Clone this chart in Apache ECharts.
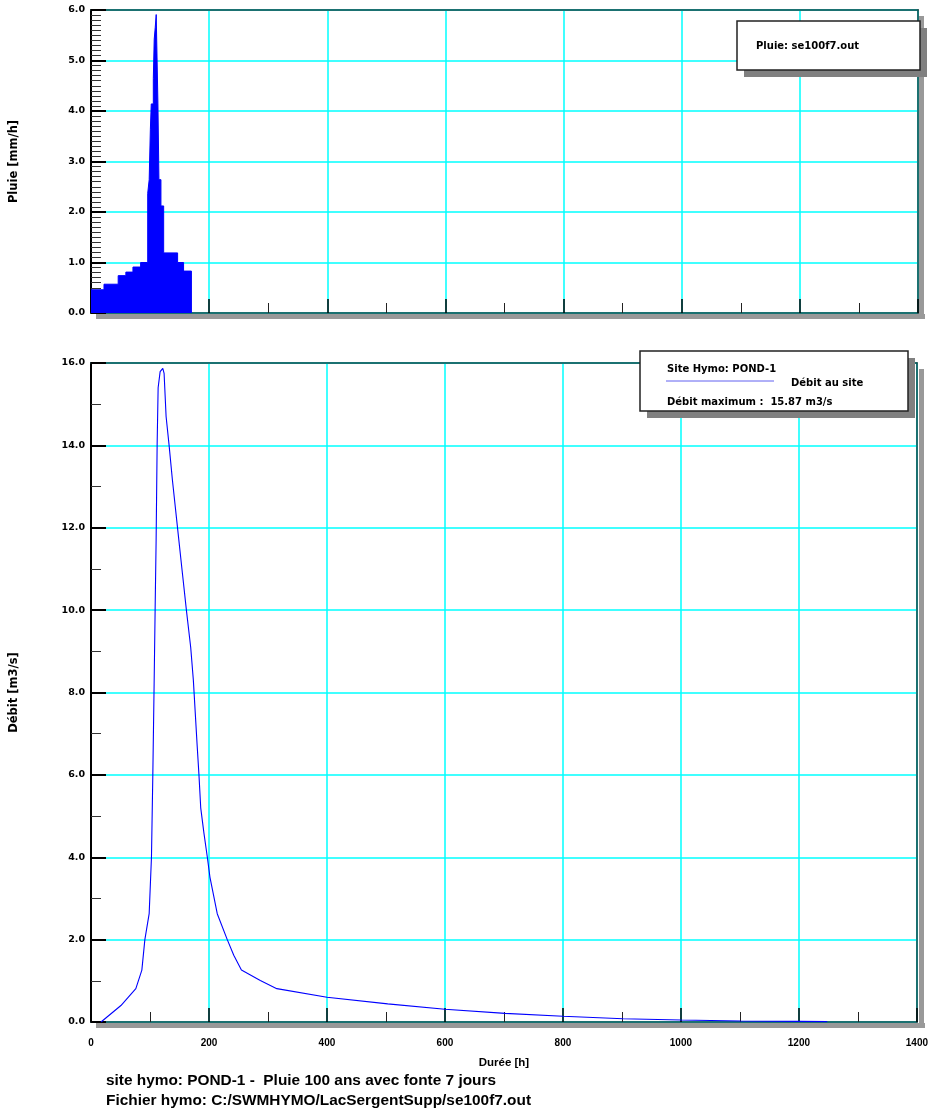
<!DOCTYPE html>
<html>
<head>
<meta charset="utf-8">
<script src="https://cdn.jsdelivr.net/npm/echarts@6/dist/echarts.min.js"></script>
<style>
html,body{margin:0;padding:0;background:#fff;}
#c{width:931px;height:1114px;}
</style>
</head>
<body>
<div id="c"></div>
<script>
// Rain hyetograph: interval boundaries (h) and intensities (mm/h)
var rainTimes = [0, 22, 46, 59, 71, 84, 96, 98.5, 100.5, 102, 105.5, 107, 108.7, 110.4, 113.3, 115, 118.4, 123, 146.6, 156.7, 170];
var rainValues = [0.46, 0.57, 0.74, 0.81, 0.91, 1.0, 2.37, 2.64, 3.64, 4.14, 4.64, 5.42, 5.65, 5.91, 4.14, 2.64, 2.12, 1.19, 1.0, 0.83];

// Hydrograph: time (h) and flow (m3/s)
var flowTimes = [17, 50.7, 76, 86.2, 91.3, 98.6, 102.5, 104.8, 107, 108.7, 110.4, 112.1, 113.8, 117.2, 121.7, 123.9, 127.3, 132.4, 138, 146.5, 155, 161.7, 169, 173.5, 180, 183, 186, 191.5, 197.2, 201.6, 214, 231, 242, 255, 287, 315, 400, 503, 600, 702, 800, 902, 1000, 1101, 1200, 1248];
var flowValues = [0, 0.40, 0.81, 1.26, 2.0, 2.63, 4.0, 6.0, 8.2, 10.0, 11.7, 14.0, 15.4, 15.79, 15.87, 15.75, 14.7, 14.0, 13.16, 12.02, 10.89, 10.0, 9.1, 8.3, 6.7, 6.0, 5.2, 4.58, 4.0, 3.52, 2.63, 2.0, 1.62, 1.26, 1.01, 0.81, 0.60, 0.44, 0.31, 0.21, 0.14, 0.08, 0.05, 0.025, 0.015, 0.01];

var yTopTicks = [0, 1, 2, 3, 4, 5, 6];
var yBottomTicks = [0, 2, 4, 6, 8, 10, 12, 14, 16];
var xTicks = [0, 200, 400, 600, 800, 1000, 1200, 1400];

var rainData = rainValues.map(function (v, i) { return [rainTimes[i], v]; });
rainData.push([rainTimes[rainTimes.length - 1], 0]);
var flowData = flowTimes.map(function (t, i) { return [t, flowValues[i]]; });

var FONT = 'Liberation Sans, Arial, sans-serif';
var WFONT = 'DejaVu Sans, Verdana, sans-serif';
var gridColor = '#00ffff';
var frameColor = '#1e4d4d';

function xAxisCfg(gi, showLabels) {
  return {
    type: 'value', gridIndex: gi, min: xTicks[0], max: xTicks[xTicks.length - 1], interval: 200,
    axisLine: { show: true, onZero: false, lineStyle: { color: frameColor, width: 1.5 } },
    axisTick: { show: true, inside: true, length: 14, lineStyle: { color: '#000', width: 1.5 } },
    minorTick: { show: true, splitNumber: 2, length: 10, lineStyle: { color: '#222', width: 1 } },
    splitLine: { show: true, lineStyle: { color: gridColor, width: 1.5 } },
    axisLabel: { show: showLabels, color: '#000', fontFamily: FONT, fontWeight: 'bold', fontSize: 10, margin: 16,
      formatter: function (v) { return String(v); } },
    name: showLabels ? 'Durée [h]' : '', nameLocation: 'middle', nameGap: 35,
    nameTextStyle: { color: '#000', fontFamily: FONT, fontWeight: 'bold', fontSize: 11.5 }
  };
}
function frameXAxis(gi) {
  return {
    type: 'value', gridIndex: gi, position: 'top', min: xTicks[0], max: xTicks[xTicks.length - 1],
    axisLine: { show: true, onZero: false, lineStyle: { color: frameColor, width: 1.5 } },
    axisTick: { show: false }, axisLabel: { show: false }, splitLine: { show: false }
  };
}
function frameYAxis(gi, ticks) {
  return {
    type: 'value', gridIndex: gi, position: 'right', min: ticks[0], max: ticks[ticks.length - 1],
    axisLine: { show: true, onZero: false, lineStyle: { color: frameColor, width: 1.5 } },
    axisTick: { show: false }, axisLabel: { show: false }, splitLine: { show: false }
  };
}

function yAxisCfg(gi, ticks, interval, minorSplit, name) {
  return {
    type: 'value', gridIndex: gi, min: ticks[0], max: ticks[ticks.length - 1], interval: interval,
    axisLine: { show: true, onZero: false, lineStyle: { color: '#000', width: 2 } },
    axisTick: { show: true, inside: true, length: 15, lineStyle: { color: '#000', width: 2 } },
    minorTick: { show: true, splitNumber: minorSplit, length: 10, lineStyle: { color: '#333', width: 1 } },
    splitLine: { show: true, lineStyle: { color: gridColor, width: 1.5 } },
    axisLabel: { color: '#000', fontFamily: WFONT, fontWeight: 'bold', fontSize: 9.5, margin: 6,
      formatter: function (v) { return v.toFixed(1); } },
    name: name, nameLocation: 'middle', nameGap: 71, nameRotate: 90,
    nameTextStyle: { color: '#000', fontFamily: WFONT, fontWeight: 'bold', fontSize: 11.5 }
  };
}

function legendBox(x, y, w, h, children) {
  return {
    type: 'group', x: x, y: y, z: 100,
    children: [
      { type: 'rect', shape: { x: 7, y: 7, width: w, height: h }, style: { fill: '#808080' }, z: 100 },
      { type: 'rect', shape: { x: 0, y: 0, width: w, height: h }, style: { fill: '#fff', stroke: '#222', lineWidth: 1.5 }, z: 101 }
    ].concat(children)
  };
}

var chart = echarts.init(document.getElementById('c'), null, { renderer: 'canvas' });
chart.setOption({
  animation: false,
  backgroundColor: '#fff',
  grid: [
    { left: 90, right: 13, top: 10, height: 303, show: true, borderColor: frameColor, borderWidth: 1.5, backgroundColor: 'transparent' },
    { left: 90, right: 13, top: 363, height: 659, show: true, borderColor: frameColor, borderWidth: 1.5, backgroundColor: 'transparent' }
  ],
  xAxis: [xAxisCfg(0, false), xAxisCfg(1, true), frameXAxis(0), frameXAxis(1)],
  yAxis: [
    yAxisCfg(0, yTopTicks, 1, 10, 'Pluie [mm/h]'),
    yAxisCfg(1, yBottomTicks, 2, 2, 'Débit [m3/s]'),
    frameYAxis(0, yTopTicks), frameYAxis(1, yBottomTicks)
  ],
  series: [
    {
      type: 'line', xAxisIndex: 0, yAxisIndex: 0, data: rainData, step: 'end',
      symbol: 'none', lineStyle: { color: '#0000ff', width: 1 },
      areaStyle: { color: '#0000ff', opacity: 1 }, z: 5
    },
    {
      type: 'line', xAxisIndex: 1, yAxisIndex: 1, data: flowData, smooth: false,
      symbol: 'none', lineStyle: { color: '#0000ff', width: 1.1 }, z: 5
    }
  ],
  graphic: [
    // plot shadows
    { type: 'rect', shape: { x: 96, y: 314, width: 829, height: 5 }, style: { fill: '#999' }, z: -1 },
    { type: 'rect', shape: { x: 919, y: 16, width: 5, height: 303 }, style: { fill: '#999' }, z: -1 },
    { type: 'rect', shape: { x: 96, y: 1023, width: 829, height: 5 }, style: { fill: '#999' }, z: -1 },
    { type: 'rect', shape: { x: 919, y: 369, width: 5, height: 659 }, style: { fill: '#999' }, z: -1 },
    legendBox(737, 21, 183, 49, [
      { type: 'text', x: 19, y: 25, z: 102, style: { text: 'Pluie: se100f7.out', fill: '#000', font: 'bold 10px ' + WFONT, textVerticalAlign: 'middle' } }
    ]),
    legendBox(640, 351, 268, 60, [
      { type: 'text', x: 27, y: 18, z: 102, style: { text: 'Site Hymo: POND-1', fill: '#000', font: 'bold 10px ' + WFONT, textVerticalAlign: 'middle' } },
      { type: 'line', z: 102, shape: { x1: 26, y1: 30, x2: 134, y2: 30 }, style: { stroke: '#6060f0', lineWidth: 1 } },
      { type: 'text', x: 151, y: 32, z: 102, style: { text: 'Débit au site', fill: '#000', font: 'bold 10px ' + WFONT, textVerticalAlign: 'middle' } },
      { type: 'text', x: 27, y: 51, z: 102, style: { text: 'Débit maximum :  15.87 m3/s', fill: '#000', font: 'bold 10px ' + WFONT, textVerticalAlign: 'middle' } }
    ]),
    { type: 'text', x: 106, y: 1081, style: { text: 'site hymo: POND-1 -  Pluie 100 ans avec fonte 7 jours', fill: '#000', font: 'bold 15.4px ' + FONT, textVerticalAlign: 'middle' } },
    { type: 'text', x: 106, y: 1101, style: { text: 'Fichier hymo: C:/SWMHYMO/LacSergentSupp/se100f7.out', fill: '#000', font: 'bold 15.4px ' + FONT, textVerticalAlign: 'middle' } }
  ]
});
</script>
</body>
</html>
